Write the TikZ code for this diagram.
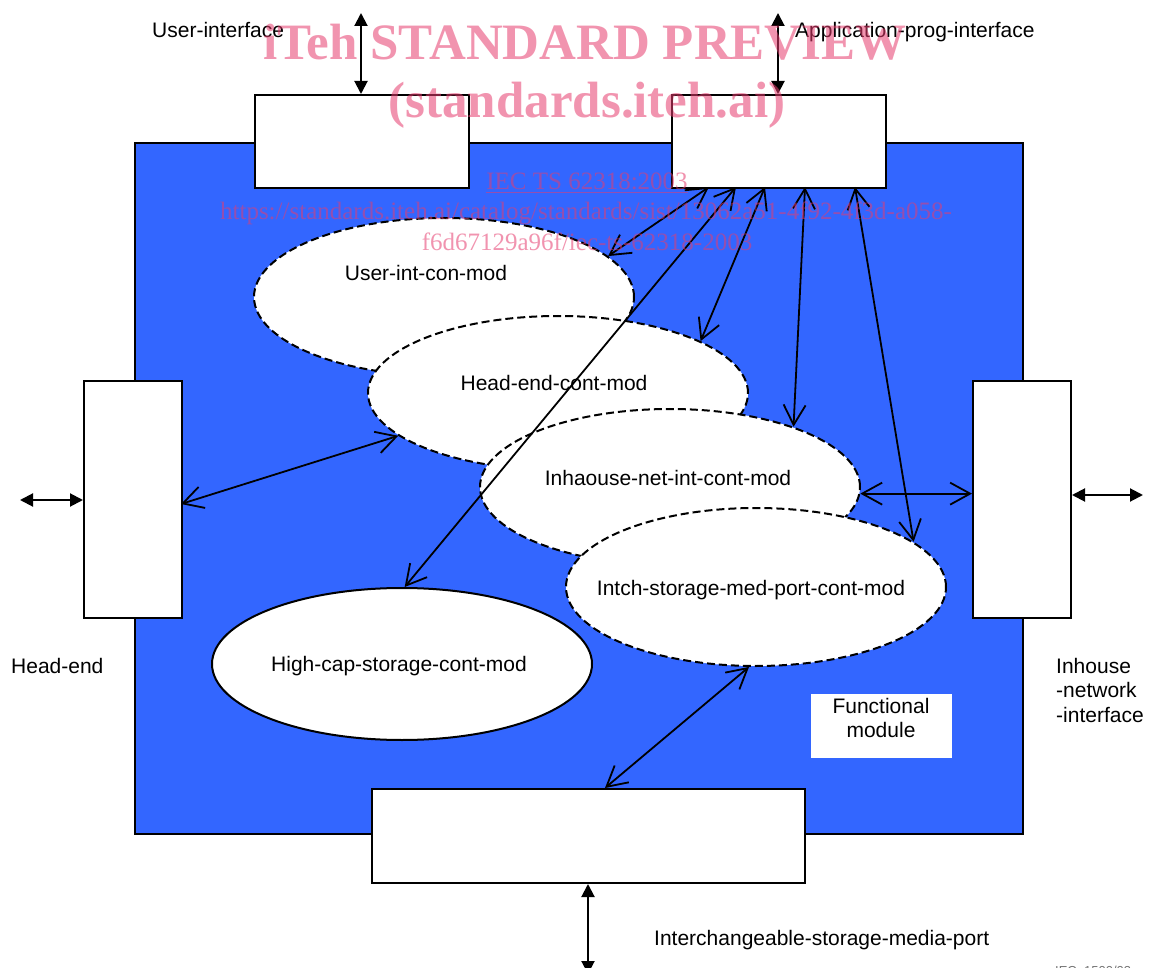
\documentclass[tikz,border=0pt]{standalone}
\usepackage{fontspec}
\setmainfont{Liberation Sans}
\newfontfamily\wmfont{Liberation Serif}
\usetikzlibrary{arrows.meta,shapes.geometric,calc}
\definecolor{fmblue}{RGB}{51,102,255}
\definecolor{wmpink}{RGB}{230,60,110}
\begin{document}
\begin{tikzpicture}[x=1pt,y=-1pt,
  box/.style={draw, line width=2pt, fill=white, inner sep=0pt, anchor=north west},
  mod/.style={ellipse, draw, line width=2pt, fill=white, dash pattern=on 8pt off 4pt, inner sep=0pt, minimum width=380pt},
  solidmod/.style={ellipse, draw, line width=2pt, fill=white, inner sep=0pt, minimum width=380pt},
  conn/.style={line width=1.8pt, {Straight Barb[length=20pt,width=22pt]}-{Straight Barb[length=20pt,width=22pt]}},
  ext/.style={line width=2pt, {Triangle[length=13pt,width=13pt]}-{Triangle[length=13pt,width=13pt]}},
  lab/.style={inner sep=0pt, font=\fontsize{21}{24.5}\selectfont},
  wm/.style={inner sep=0pt, text=wmpink, text opacity=0.55}
]
\useasboundingbox (0,0) rectangle (1152,968);
% functional block background
\node[draw, fill=fmblue, line width=2pt, minimum width=888pt, minimum height=691pt, inner sep=0pt, anchor=north west] (fm) at (134,142) {};
% interface boxes
\node[box, minimum width=214pt, minimum height=93pt] (ui) at (254,94) {};
\node[box, minimum width=214pt, minimum height=93pt] (api) at (671,94) {};
\node[box, minimum width=98pt, minimum height=237pt] (hebox) at (83,380) {};
\node[box, minimum width=98pt, minimum height=237pt] (ihbox) at (972,380) {};
\node[box, minimum width=433pt, minimum height=94pt] (isbox) at (371,788) {};
% modules
\node[mod, minimum height=158pt] (uicm) at (444,297) {};
\node[mod, minimum height=154pt] (hecm) at (558,393) {};
\node[mod, minimum height=156pt] (ihn) at (670,487) {};
\node[mod, minimum height=158pt] (isp) at (756,587) {};
\node[solidmod, minimum height=152pt] (hcs) at (402,664) {};
% module labels
\node[lab, anchor=base] (uicml) at (426,280.5) {User-int-con-mod};
\node[lab, anchor=base] (hecml) at (554,390.5) {Head-end-cont-mod};
\node[lab, anchor=base] (ihnl) at (668,485.5) {Inhaouse-net-int-cont-mod};
\node[lab, anchor=base] (ispl) at (751,595.5) {Intch-storage-med-port-cont-mod};
\node[lab, anchor=base] (hcsl) at (399,671.5) {High-cap-storage-cont-mod};
% functional module legend
\node[fill=white, inner sep=0pt, minimum width=141pt, minimum height=64pt, anchor=north west] (fmod) at (811,694) {};
\node[lab, anchor=base] (fmodl1) at (881,713) {Functional};
\node[lab, anchor=base] (fmodl2) at (881,737) {module};
% endpoints
\coordinate (a1) at (709,187);
\coordinate (a2) at (736,187);
\coordinate (a3) at (765,187);
\coordinate (a4) at (805,187);
\coordinate (a5) at (855,187);
\coordinate (he1) at (181,504);
\coordinate (b1) at (605,788);
\coordinate (uit) at (361,13);
\coordinate (apit) at (778,13);
\coordinate (hel) at (20,500);
\coordinate (ihr) at (1143,495);
\coordinate (isb) at (588,974);
% internal connectors
\draw[conn] (he1) -- (hecm.195);
\draw[conn] (a1) -- (uicm.14);
\draw[conn] (a2) -- (hcs.88);
\draw[conn] (a3) -- (hecm.20);
\draw[conn] (a4) -- (ihn.26);
\draw[conn] (a5) -- (isp.16);
\draw[conn] (ihn.-2) -- (ihn.-2 -| ihbox.west);
\draw[conn] (isp.265) -- (b1);
% external connectors
\draw[ext] (uit) -- (uit |- ui.north);
\draw[ext] (apit) -- (apit |- api.north);
\draw[ext] (hel) -- (hel -| hebox.west);
\draw[ext] (ihr) -- (ihr -| ihbox.east);
\draw[ext] (isb) -- (isb |- isbox.south);
% outside labels
\node[lab, anchor=base west] (uil) at (152,38) {User-interface};
\node[lab, anchor=base west] (apil) at (795,37.5) {Application-prog-interface};
\node[lab, anchor=base west] (hell) at (11,673) {Head-end};
\node[lab, anchor=base west] (ihl1) at (1056,673) {Inhouse};
\node[lab, anchor=base west] (ihl2) at (1056,697) {-network};
\node[lab, anchor=base west] (ihl3) at (1056,722) {-interface};
\node[lab, anchor=base west] (isl) at (654,945) {Interchangeable-storage-media-port};
\node[inner sep=0pt, anchor=base west, text=black!55, font=\fontsize{13}{13}\selectfont] (iec) at (1055,975) {IEC\ \ 1500/03};
% watermark
\node[wm, anchor=base, font=\wmfont\bfseries\fontsize{51}{51}\selectfont] (wm1) at (585,60) {iTeh STANDARD PREVIEW};
\node[wm, anchor=base, font=\wmfont\bfseries\fontsize{51}{51}\selectfont] (wm2) at (587,118) {(standards.iteh.ai)};
\node[wm, anchor=base, font=\wmfont\fontsize{25}{25}\selectfont] (wm3) at (587,190) {\underline{IEC TS 62318:2003}};
\node[wm, anchor=base, font=\wmfont\fontsize{25}{25}\selectfont] (wm4) at (586,220) {https://standards.iteh.ai/catalog/standards/sist/13062a51-4f92-4f3d-a058-};
\node[wm, anchor=base, font=\wmfont\fontsize{25}{25}\selectfont] (wm5) at (587,251) {f6d67129a96f/iec-ts-62318-2003};
\end{tikzpicture}
\end{document}
